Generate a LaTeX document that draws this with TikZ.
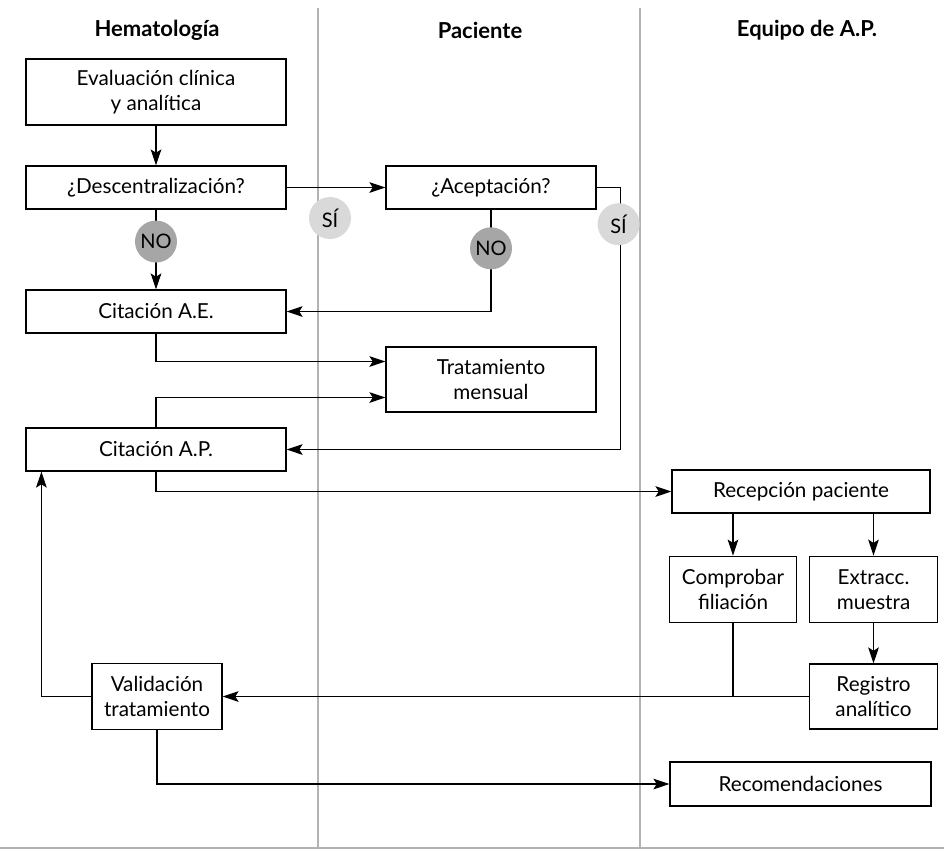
\documentclass[tikz,border=0pt]{standalone}
\usepackage{fontspec}
\setmainfont{Lato}
\usetikzlibrary{
    arrows.meta,
    calc,
    positioning,
}
\colorlet{LaneGray}{black!30}
\colorlet{SiGray}{black!15}
\colorlet{NoGray}{black!35}
\tikzstyle{proc}=[draw,rectangle,line width=0.9pt,align=center,inner sep=0pt,font=\fontsize{15.5}{19}\selectfont]
\tikzstyle{wide}=[proc,minimum width=195pt,minimum height=32.25pt]
\tikzstyle{mid}=[proc,minimum width=157.5pt,minimum height=32.25pt]
\tikzstyle{small}=[proc,minimum width=95.5pt,minimum height=50pt]
\tikzstyle{lane}=[draw=LaneGray,line width=2.2pt]
\tikzstyle{lanehead}=[font=\bfseries\fontsize{16.5}{19}\selectfont]
\tikzstyle{flow}=[line width=0.8pt]
\tikzstyle{si}=[circle,fill=SiGray,minimum size=31.5pt,inner sep=0pt,font=\fontsize{15}{17}\selectfont]
\tikzstyle{no}=[si,fill=NoGray]
\tikzset{
    >={Stealth[length=12pt,width=8pt,inset=2.5pt]}
}

\begin{document}
\begin{tikzpicture}[x=0.75pt,y=-0.75pt]
    \useasboundingbox (0,0) rectangle (944,850);

    % Lanes
    \draw[lane] (318,8) -- (318,848);
    \draw[lane] (640,8) -- (640,848);
    \draw[lane] (0,848) -- (944,848);
    \node[lanehead] (hema) at (157,30) {Hematología};
    \node[lanehead] (paciente) at (480,30) {Paciente};
    \node[lanehead] (equipo) at (807,30) {Equipo de A.P.};

    % Hematologia
    \node[wide,minimum height=49.5pt] (evaluacion) at (156,92) {Evaluación clínica\\y analítica};
    \node[wide] (descentral) at (156,187.5) {¿Descentralización?};
    \node[wide] (citaAE) at (156,311.5) {Citación A.E.};
    \node[wide] (citaAP) at (156,449.5) {Citación A.P.};
    \node[small,minimum width=97.5pt] (validacion) at (157,696.5) {Validación\\tratamiento};

    % Paciente
    \node[mid] (aceptacion) at (491,187.5) {¿Aceptación?};
    \node[mid,minimum height=48.75pt] (tratamiento) at (491,379.5) {Tratamiento\\mensual};

    % Equipo de A.P.
    \node[wide,minimum width=193.5pt] (recepcion) at (801,491.5) {Recepción paciente};
    \node[small] (comprobar) at (733,589.5) {Comprobar\\filiación};
    \node[small] (extraccion) at (873.5,589.5) {Extracc.\\muestra};
    \node[small,minimum height=48.75pt] (registro) at (873.5,696.5) {Registro\\analítico};
    \node[wide,minimum width=195.75pt,minimum height=33pt] (recomendaciones) at (800.5,784) {Recomendaciones};

    % Flow
    \draw[flow,->] (evaluacion) -- (descentral);
    \draw[flow,->] (descentral) -- (aceptacion);
    \node[si] (si1) at (330,218) {SÍ};
    \draw[flow,->] (descentral) -- node[no,pos=0.4] (no1) {NO} (citaAE);
    \draw[flow,->] (aceptacion.south) |- node[no,pos=0.19] (no2) {NO} (citaAE.east);
    \draw[flow,->] (aceptacion.east) -- ++(24,0) |- node[si,pos=0.07,xshift=-1.5pt] (si2) {SÍ} (citaAP.east);
    \draw[flow,->] (citaAE.south) |- ([yshift=13.5pt]tratamiento.west);
    \draw[flow,->] (citaAP.north) |- ([yshift=-13.5pt]tratamiento.west);
    \draw[flow,->] (citaAP.south) |- (recepcion.west);
    \draw[flow,->] (recepcion.south -| comprobar) -- (comprobar);
    \draw[flow,->] (recepcion.south -| extraccion) -- (extraccion);
    \draw[flow,->] (extraccion) -- (registro);
    \draw[flow] (comprobar.south) -- (comprobar.south |- registro.west);
    \draw[flow,->] (registro.west) -- (validacion.east);
    \draw[flow,->] (validacion.west) -| ([xshift=12pt]citaAP.south west);
    \draw[flow,->] (validacion.south) |- (recomendaciones.west);
\end{tikzpicture}
\end{document}
